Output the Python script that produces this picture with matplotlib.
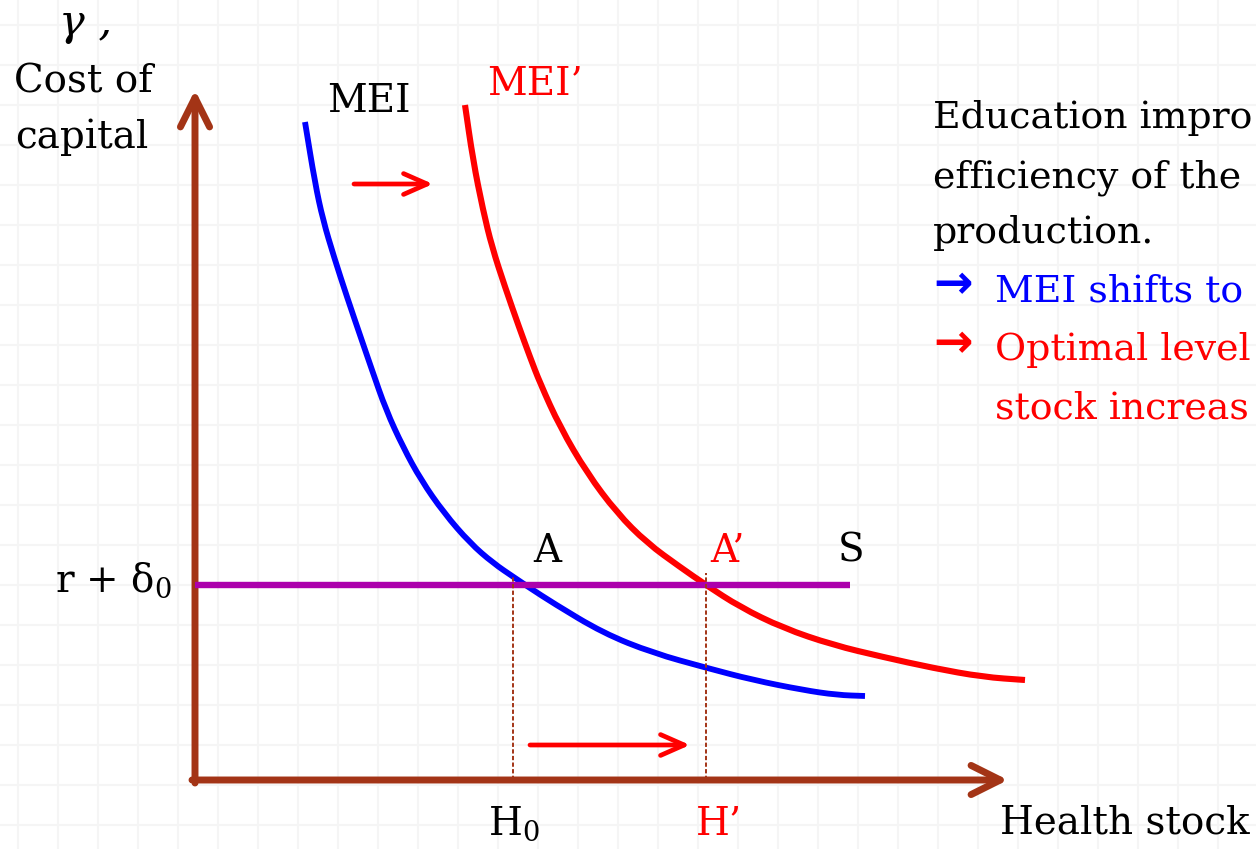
import matplotlib
matplotlib.use('Agg')
import matplotlib.pyplot as plt
from matplotlib.path import Path
from matplotlib.patches import PathPatch
import numpy as np

# ---- data (H = health stock, g = cost of capital), diagram units ----
mei_h = [110, 120, 128, 139, 152, 166, 177, 191, 208, 226, 249, 275, 298, 320,
         335, 358, 408, 458, 512, 558, 608, 642, 670]
mei_g = [658, 597, 560, 523, 483, 442, 410, 370, 333, 300, 267, 237, 217, 202,
         192, 177, 147, 127, 112, 100, 90, 85, 84]
mei2_h = [270, 278, 288, 297, 310, 324, 335, 345, 365, 392, 422, 452, 485, 511,
          545, 588, 638, 688, 738, 788, 830]
mei2_g = [675, 620, 570, 533, 493, 453, 423, 397, 353, 307, 267, 237, 213, 195,
          173, 152, 135, 123, 112, 103, 100]
s_level = 195          # r + delta_0
s_h = [0, 655]
h0 = 318               # H_0
h1 = 511               # H'
h0_top = 203
h1_top = 207
x_axis_end = 813
y_axis_end = 690
shift_top = ([159, 238], 596)
shift_bottom = ([335, 495], 35)

text_lines = ["Education impro", "efficiency of the", "production."]
blue_line = "MEI shifts to"
red_lines = ["Optimal level", "stock increas"]

# ---- styling ----
BROWN = '#A33416'
PURPLE = '#AC00AC'
BLUE = '#0000FF'
RED = '#FF0000'
FONT = 'DejaVu Serif'
FS = 28
FS_R = 27.3

plt.rcParams['font.family'] = FONT
plt.rcParams['mathtext.fontset'] = 'dejavuserif'

fig = plt.figure(figsize=(12.56, 8.49), dpi=100)
ax = fig.add_axes([0, 0, 1, 1])
ax.set_xlim(-195, 1061)
ax.set_ylim(-69, 780)

# faint background grid
ax.set_xticks(np.arange(-177, 1061, 40))
ax.set_yticks(np.arange(755, -69, -40))
ax.grid(True, color='#F5F5F5', lw=1.5)
ax.tick_params(length=0, labelbottom=False, labelleft=False)
for sp in ax.spines.values():
    sp.set_visible(False)
ax.set_axisbelow(True)


def smooth_curve(xs, ys, **kw):
    """Draw a smooth quadratic B-spline path using the read points as controls."""
    pts = np.column_stack([xs, ys]).astype(float)
    verts = [pts[0], (pts[0] + pts[1]) / 2]
    codes = [Path.MOVETO, Path.LINETO]
    for i in range(1, len(pts) - 1):
        verts += [pts[i], (pts[i] + pts[i + 1]) / 2]
        codes += [Path.CURVE3, Path.CURVE3]
    verts.append(pts[-1])
    codes.append(Path.LINETO)
    ax.add_patch(PathPatch(Path(verts, codes), fill=False, capstyle='butt',
                           joinstyle='round', **kw))


# axes arrows
arrow_kw = dict(arrowstyle='->,head_length=21,head_width=10.5', lw=5,
                color=BROWN, mutation_scale=1, shrinkA=0, shrinkB=0,
                capstyle='round', joinstyle='round')
ax.annotate('', xy=(0, y_axis_end), xytext=(0, -3), arrowprops=arrow_kw)
ax.annotate('', xy=(x_axis_end, 0), xytext=(-3, 0), arrowprops=arrow_kw)

# curves
smooth_curve(mei_h, mei_g, edgecolor=BLUE, lw=4.2, zorder=3)
smooth_curve(mei2_h, mei2_g, edgecolor=RED, lw=4.4, zorder=3)
ax.plot(s_h, [s_level, s_level], color=PURPLE, lw=4.6, solid_capstyle='butt', zorder=4)

# dashed drop lines
ax.plot([h0, h0], [0, h0_top], color=BROWN, lw=1.4, dashes=(2.2, 1.2), zorder=5)
ax.plot([h1, h1], [0, h1_top], color=BROWN, lw=1.4, dashes=(2.2, 1.2), zorder=5)

# shift arrows
red_kw = dict(arrowstyle='->,head_length=17,head_width=7.5', lw=3.4,
              color=RED, mutation_scale=1, shrinkA=0, shrinkB=0,
              capstyle='round', joinstyle='round')
ax.annotate('', xy=(shift_top[0][1], shift_top[1]),
            xytext=(shift_top[0][0], shift_top[1]), arrowprops=red_kw)
ax.annotate('', xy=(shift_bottom[0][1], shift_bottom[1]),
            xytext=(shift_bottom[0][0], shift_bottom[1]), arrowprops=red_kw)

# labels
ax.text(-110, 745, 'γ ,', fontsize=31, style='italic', ha='center', va='baseline')
ax.text(-112, 688, 'Cost of', fontsize=FS, ha='center', va='baseline')
ax.text(-113, 632, 'capital', fontsize=FS, ha='center', va='baseline')
ax.text(132, 668, 'MEI', fontsize=FS, ha='left', va='baseline')
ax.text(292, 685, 'MEI’', fontsize=FS, color=RED, ha='left', va='baseline')
ax.text(338, 218, 'A', fontsize=FS, ha='left', va='baseline')
ax.text(515, 218, 'A’', fontsize=FS, color=RED, ha='left', va='baseline')
ax.text(643, 218, 'S', fontsize=FS, ha='left', va='baseline')
ax.text(-140, 188, r'r + δ${}_0$', fontsize=FS, ha='left', va='baseline')
ax.text(293, -55, r'H${}_0$', fontsize=FS, ha='left', va='baseline')
ax.text(501, -55, 'H’', fontsize=FS, color=RED, ha='left', va='baseline')
ax.text(805, -53, 'Health stock', fontsize=FS, ha='left', va='baseline')

# explanatory text
base = [652, 593, 537]
for y, s in zip(base, text_lines):
    ax.text(738, y, s, fontsize=FS_R, ha='left', va='baseline')
ax.text(738, 482, '→', fontsize=34, color=BLUE, ha='left', va='baseline',
        family='DejaVu Sans', fontweight='bold')
ax.text(800, 478, blue_line, fontsize=FS_R, color=BLUE, ha='left', va='baseline')
ax.text(738, 423, '→', fontsize=34, color=RED, ha='left', va='baseline',
        family='DejaVu Sans', fontweight='bold')
ax.text(800, 420, red_lines[0], fontsize=FS_R, color=RED, ha='left', va='baseline')
ax.text(800, 362, red_lines[1], fontsize=FS_R, color=RED, ha='left', va='baseline')

fig.savefig('out.png', dpi=100)
